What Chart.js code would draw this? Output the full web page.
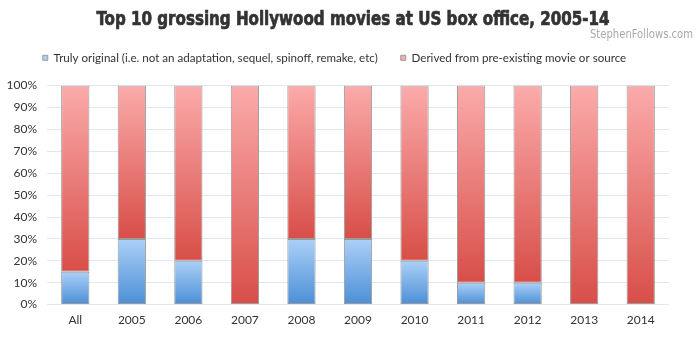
<!DOCTYPE html>
<html>
<head>
<meta charset="utf-8">
<script src="https://cdn.jsdelivr.net/npm/chart.js@4/dist/chart.umd.min.js"></script>
<style>
  html, body { margin: 0; padding: 0; background: #fff; }
  #wrap { width: 700px; height: 338px; }
</style>
</head>
<body>
<div id="wrap"><canvas id="c" width="700" height="338"></canvas></div>
<script>
// Share of top-10 grossing films by origin, per year (percent)
const categories = ['All', '2005', '2006', '2007', '2008', '2009', '2010', '2011', '2012', '2013', '2014'];
const original = [15, 30, 20, 0, 30, 30, 20, 10, 10, 0, 0];
const derived = [85, 70, 80, 100, 70, 70, 80, 90, 90, 100, 100];
const yTicks = [0, 10, 20, 30, 40, 50, 60, 70, 80, 90, 100];

const seriesNames = [
  'Truly original (i.e. not an adaptation, sequel, spinoff, remake, etc)',
  'Derived from pre-existing movie or source'
];
const titleText = 'Top 10 grossing Hollywood movies at US box office, 2005-14';
const creditText = 'StephenFollows.com';

// Each bar segment is shaded light at its top and deeper at its base
function segmentFill(topColor, bottomColor, solid) {
  return function (c) {
    if (c.type !== 'data') return solid;
    const chart = c.chart;
    const y = chart.scales.y;
    if (!y) return solid;
    const i = c.dataIndex;
    const start = c.datasetIndex === 0 ? 0 : original[i];
    const end = start + (c.datasetIndex === 0 ? original[i] : derived[i]);
    const yTop = y.getPixelForValue(end);
    const yBot = y.getPixelForValue(start);
    if (!isFinite(yTop) || !isFinite(yBot) || yTop === yBot) return solid;
    const g = chart.ctx.createLinearGradient(0, yTop, 0, yBot);
    g.addColorStop(0, topColor);
    g.addColorStop(1, bottomColor);
    return g;
  };
}

// Condensed headline and credit line, squeezed horizontally to a set width
function drawCondensed(ctx, text, font, color, x, y, width, align, weight) {
  ctx.save();
  ctx.font = font;
  ctx.fillStyle = color;
  ctx.strokeStyle = color;
  ctx.textBaseline = 'middle';
  ctx.textAlign = 'left';
  const w = ctx.measureText(text).width;
  const k = width / w;
  const left = align === 'right' ? x - width : x - width / 2;
  ctx.translate(left, y);
  ctx.scale(k, 1);
  ctx.fillText(text, 0, 0);
  if (weight) {
    ctx.lineWidth = weight;
    ctx.lineJoin = 'round';
    ctx.strokeText(text, 0, 0);
  }
  ctx.restore();
}

const headerPlugin = {
  id: 'header',
  beforeInit(chart) {
    // extra room between the legend row and the plot
    const fit = chart.legend.fit;
    chart.legend.fit = function () {
      fit.call(this);
      this.height += 12;
    };
  },
  afterDraw(chart) {
    const ctx = chart.ctx;
    drawCondensed(ctx, titleText, "bold 20px 'DejaVu Sans Condensed', sans-serif", '#333333', 353, 20, 513, 'center', 0.7);
    drawCondensed(ctx, creditText, "13px 'DejaVu Sans Condensed', sans-serif", '#a8a8a8', 693, 35, 103, 'right', 0);
  }
};

const labelFont = "Lato, 'Open Sans', sans-serif";

new Chart(document.getElementById('c'), {
  type: 'bar',
  data: {
    labels: categories,
    datasets: [
      {
        label: seriesNames[0],
        data: original,
        backgroundColor: segmentFill('#acd0f8', '#4b8fd6', '#6fa5e6'),
        borderColor: '#9a9a9a',
        borderWidth: 1,
        borderSkipped: false,
        barPercentage: 0.5,
        categoryPercentage: 1.0
      },
      {
        label: seriesNames[1],
        data: derived,
        backgroundColor: segmentFill('#fbabab', '#d84e48', '#e27c79'),
        borderColor: '#9a9a9a',
        borderWidth: 1,
        borderSkipped: false,
        barPercentage: 0.5,
        categoryPercentage: 1.0
      }
    ]
  },
  plugins: [headerPlugin],
  options: {
    responsive: false,
    animation: false,
    devicePixelRatio: 1,
    layout: { padding: { left: 0, right: 31, top: 29, bottom: 3 } },
    plugins: {
      title: { display: false },
      legend: {
        display: true,
        position: 'top',
        labels: {
          color: '#333333',
          font: { family: labelFont, size: 11.6 },
          boxWidth: 5,
          boxHeight: 5,
          padding: 23
        }
      },
      tooltip: { enabled: false }
    },
    scales: {
      x: {
        stacked: true,
        grid: { display: false, drawTicks: false },
        border: { display: false },
        ticks: { color: '#333333', font: { family: labelFont, size: 12 }, padding: 8 }
      },
      y: {
        stacked: true,
        min: 0,
        max: 100,
        afterFit: (s) => { s.width = 47; },
        afterBuildTicks: (s) => { s.ticks = yTicks.map(v => ({ value: v })); },
        grid: { color: '#dfe7ef', drawTicks: false },
        border: { display: false },
        ticks: {
          color: '#333333',
          font: { family: labelFont, size: 12 },
          padding: 10,
          callback: (v) => v + '%'
        }
      }
    }
  }
});
</script>
</body>
</html>
